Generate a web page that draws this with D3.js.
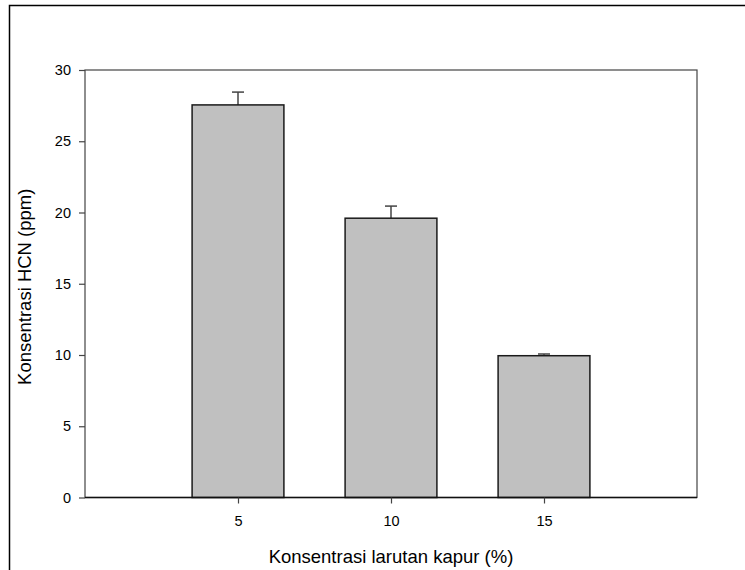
<!DOCTYPE html>
<html><head><meta charset="utf-8">
<script src="https://cdn.jsdelivr.net/npm/d3@7/dist/d3.min.js"></script>
<style>body{margin:0;background:#fff}svg{display:block}text{font-family:"Liberation Sans",Arial,sans-serif;fill:#000}</style>
</head><body><svg id="c" width="745" height="570"></svg>
<script>
const categories = [5, 10, 15];
const values = [27.55, 19.6, 9.95];
const errors = [0.9, 0.85, 0.12];
const yTicks = [0, 5, 10, 15, 20, 25, 30];
const xTicks = [5, 10, 15];
const xTitle = "Konsentrasi larutan kapur (%)";
const yTitle = "Konsentrasi HCN (ppm)";

const svg = d3.select("#c");
const L = 85, R = 697, T = 70, B = 497.5;
const x = d3.scaleLinear().domain([0, 20]).range([L, R]);
const y = d3.scaleLinear().domain([0, 30]).range([B, T]);
const barW = 3;

// outer frame
svg.append("rect").attr("x", 9.5).attr("y", 5.5).attr("width", 760).attr("height", 600)
  .attr("fill", "none").attr("stroke", "#000").attr("stroke-width", 1.5);

// plot frame
svg.append("rect").attr("x", L).attr("y", T).attr("width", R - L).attr("height", B - T)
  .attr("fill", "none").attr("stroke", "#444").attr("stroke-width", 1.2);

const data = categories.map((c, i) => ({c, v: values[i], e: errors[i]}));

// error bars (upper only)
const eb = svg.append("g").attr("stroke", "#444").attr("stroke-width", 1.5);
data.forEach(d => {
  eb.append("line").attr("x1", x(d.c)).attr("x2", x(d.c)).attr("y1", y(d.v)).attr("y2", y(d.v + d.e));
  eb.append("line").attr("x1", x(d.c) - 6).attr("x2", x(d.c) + 6).attr("y1", y(d.v + d.e)).attr("y2", y(d.v + d.e));
});

svg.append("g").selectAll("rect").data(data).join("rect")
  .attr("x", d => x(d.c - barW / 2)).attr("width", d => x(d.c + barW / 2) - x(d.c - barW / 2))
  .attr("y", d => y(d.v)).attr("height", d => y(0) - y(d.v))
  .attr("fill", "#c0c0c0").attr("stroke", "#1a1a1a").attr("stroke-width", 1.5);

// bottom axis line on top
svg.append("line").attr("x1", L).attr("x2", R).attr("y1", B).attr("y2", B).attr("stroke", "#111").attr("stroke-width", 1.5);

const yAxis = d3.axisLeft(y).tickValues(yTicks).tickSize(6).tickPadding(8).tickFormat(d3.format("d"));
const gy = svg.append("g").attr("transform", `translate(${L},0)`).call(yAxis);
gy.select(".domain").remove();
gy.selectAll("line").attr("stroke", "#444").attr("stroke-width", 1.2);
gy.selectAll("text").attr("font-size", 14.5).attr("font-family", "Liberation Sans, Arial, sans-serif");

const xAxis = d3.axisBottom(x).tickValues(xTicks).tickSize(6).tickPadding(12).tickFormat(d3.format("d"));
const gx = svg.append("g").attr("transform", `translate(0,${B})`).call(xAxis);
gx.select(".domain").remove();
gx.selectAll("line").attr("stroke", "#444").attr("stroke-width", 1.2);
gx.selectAll("text").attr("font-size", 14.5).attr("font-family", "Liberation Sans, Arial, sans-serif");

svg.append("text").attr("x", (L + R) / 2).attr("y", 563).attr("text-anchor", "middle")
  .attr("font-size", 18.5).text(xTitle);
svg.append("text").attr("transform", `translate(31,${(T + B) / 2 + 3}) rotate(-90)`).attr("text-anchor", "middle")
  .attr("font-size", 18.5).text(yTitle);
</script></body></html>
